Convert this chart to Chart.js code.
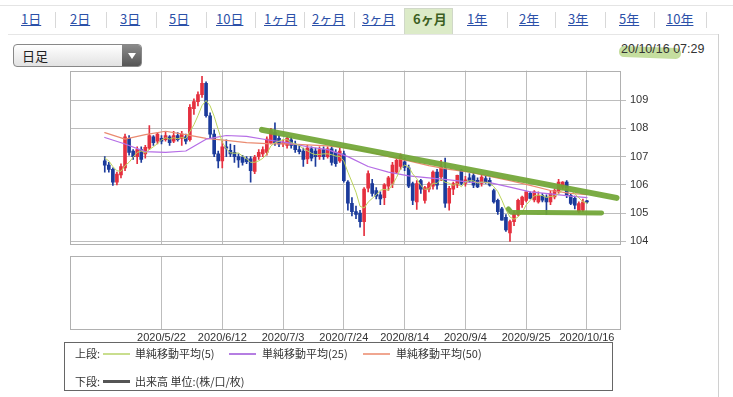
<!DOCTYPE html>
<html><head><meta charset="utf-8">
<script src="https://cdn.jsdelivr.net/npm/chart.js@4"></script>
<style>
html,body{margin:0;padding:0;background:#fff;width:733px;height:397px;overflow:hidden;font-family:"Noto Sans CJK JP","Liberation Sans",sans-serif;color:#333;}
.abs{position:absolute;}
.tab{position:absolute;top:10px;font-size:13px;line-height:18px;color:#2b50a8;text-decoration:underline;white-space:nowrap;}
.sep{position:absolute;top:12px;width:1px;height:16px;background:#d8d8d8;}
#sel{position:absolute;left:404px;top:8px;width:49px;height:26px;background:#dcebc8;border:1px solid #d0d8c8;border-bottom:none;box-sizing:border-box;}
#seltxt{position:absolute;left:413px;top:10px;font-size:13px;line-height:18px;font-weight:bold;color:#3b5e22;}
#dd{position:absolute;left:13px;top:44px;width:129px;height:23px;border:1px solid #888;border-radius:4px;box-sizing:border-box;background:linear-gradient(#ffffff,#e2e2e2);overflow:hidden;}
#ddtxt{position:absolute;left:8px;top:2px;font-size:13px;line-height:18px;color:#222;}
#ddbtn{position:absolute;right:0;top:0;width:19px;height:21px;background:linear-gradient(#8a8a8a,#555);}
#ddtri{position:absolute;left:6px;top:8px;width:0;height:0;border-left:4px solid transparent;border-right:4px solid transparent;border-top:6px solid #fff;}
#stamp{position:absolute;left:621px;top:41px;font-family:"Liberation Sans",Arial,sans-serif;font-size:12.5px;line-height:16px;color:#333;}
#hl{position:absolute;left:619px;top:47px;width:62px;height:11px;border-radius:5px;background:rgba(150,195,80,0.55);transform:rotate(2deg);}
#legend{position:absolute;left:64px;top:342px;width:549px;height:49px;border:1px solid #666;box-sizing:border-box;font-size:11px;color:#333;}
.lt{position:absolute;font-size:11px;line-height:14px;white-space:nowrap;}
.ll{position:absolute;height:2px;}
</style></head><body>

<div class="abs" style="left:0;top:5px;width:733px;height:1px;background:#e4e4e4"></div>
<div class="abs" style="left:718px;top:34px;width:1px;height:363px;background:#d0d0d0"></div>
<div class="abs" style="left:8px;top:34px;width:710px;height:1px;background:#e6e6e6"></div>
<div id="tabs"></div>
<div id="sel"></div><div id="seltxt">6ヶ月</div>

<div id="dd"><div id="ddtxt">日足</div><div id="ddbtn"><div id="ddtri"></div></div></div>
<div id="hl"></div>
<div id="stamp">20/10/16 07:29</div>

<canvas id="up" class="abs" style="left:0;top:60px" width="733" height="195"></canvas>
<canvas id="dn" class="abs" style="left:0;top:250px" width="733" height="100"></canvas>

<div id="legend">
  <div class="lt" style="left:10px;top:3px">上段:</div>
  <div class="ll" style="left:38px;top:10px;width:27px;background:#c9de8e"></div>
  <div class="lt" style="left:70px;top:3px">単純移動平均(5)</div>
  <div class="ll" style="left:164px;top:10px;width:27px;background:#b57ee2"></div>
  <div class="lt" style="left:197px;top:3px">単純移動平均(25)</div>
  <div class="ll" style="left:298px;top:10px;width:27px;background:#f0a690"></div>
  <div class="lt" style="left:331px;top:3px">単純移動平均(50)</div>
  <div class="lt" style="left:10px;top:31px">下段:</div>
  <div class="ll" style="left:38px;top:37px;width:27px;height:3px;background:#555"></div>
  <div class="lt" style="left:70px;top:31px">出来高 単位:(株/口/枚)</div>
</div>

<script>
// ---- tab bar labels ----
const tabLabels = ['1日','2日','3日','5日','10日','1ヶ月','2ヶ月','3ヶ月','6ヶ月','1年','2年','3年','5年','10年'];
const tabLeft = [21,70,120,169,216,264,312,362,413,467,519,568,619,666];
const sepLeft = [55,106,156,206,255,304,354,507,555,605,654,706];
(function(){
  const t = document.getElementById('tabs');
  tabLabels.forEach((l,i)=>{ if(l==='6ヶ月') return; const d=document.createElement('div'); d.className='tab'; d.style.left=tabLeft[i]+'px'; d.textContent=l; t.appendChild(d); });
  sepLeft.forEach(x=>{ const s=document.createElement('div'); s.className='sep'; s.style.left=x+'px'; t.appendChild(s); });
})();

// ---- data (USD/JPY daily) ----
const dates = [
'2020/5/4','2020/5/5','2020/5/6','2020/5/7','2020/5/8','2020/5/11','2020/5/12','2020/5/13','2020/5/14','2020/5/15',
'2020/5/18','2020/5/19','2020/5/20','2020/5/21','2020/5/22','2020/5/25','2020/5/26','2020/5/27','2020/5/28','2020/5/29',
'2020/6/1','2020/6/2','2020/6/3','2020/6/4','2020/6/5','2020/6/8','2020/6/9','2020/6/10','2020/6/11','2020/6/12',
'2020/6/15','2020/6/16','2020/6/17','2020/6/18','2020/6/19','2020/6/22','2020/6/23','2020/6/24','2020/6/25','2020/6/26',
'2020/6/29','2020/6/30','2020/7/1','2020/7/2','2020/7/3','2020/7/6','2020/7/7','2020/7/8','2020/7/9','2020/7/10',
'2020/7/13','2020/7/14','2020/7/15','2020/7/16','2020/7/17','2020/7/20','2020/7/21','2020/7/22','2020/7/23','2020/7/24',
'2020/7/27','2020/7/28','2020/7/29','2020/7/30','2020/7/31','2020/8/3','2020/8/4','2020/8/5','2020/8/6','2020/8/7',
'2020/8/10','2020/8/11','2020/8/12','2020/8/13','2020/8/14','2020/8/17','2020/8/18','2020/8/19','2020/8/20','2020/8/21',
'2020/8/24','2020/8/25','2020/8/26','2020/8/27','2020/8/28','2020/8/31','2020/9/1','2020/9/2','2020/9/3','2020/9/4',
'2020/9/7','2020/9/8','2020/9/9','2020/9/10','2020/9/11','2020/9/14','2020/9/15','2020/9/16','2020/9/17','2020/9/18',
'2020/9/21','2020/9/22','2020/9/23','2020/9/24','2020/9/25','2020/9/28','2020/9/29','2020/9/30','2020/10/1','2020/10/2',
'2020/10/5','2020/10/6','2020/10/7','2020/10/8','2020/10/9','2020/10/12','2020/10/13','2020/10/14','2020/10/15','2020/10/16'];

const open = [
106.85,106.70,106.55,106.10,106.35,106.60,107.65,107.20,107.00,107.25,
107.10,107.30,107.70,107.55,107.65,107.60,107.70,107.55,107.75,107.65,
107.70,107.60,108.70,108.95,109.20,109.60,108.45,107.80,107.10,106.85,
107.35,107.22,107.15,107.00,106.98,106.92,106.92,106.48,107.00,107.10,
107.15,107.50,107.85,107.65,107.45,107.40,107.60,107.45,107.25,107.20,
106.92,107.28,107.20,107.00,107.25,107.00,107.28,107.15,106.85,107.10,
106.10,105.35,105.05,105.00,104.70,105.88,106.05,105.80,105.65,105.55,
105.95,106.05,106.45,106.65,106.82,106.60,106.05,105.40,106.15,105.45,
105.85,105.95,106.45,106.28,106.58,105.35,105.85,105.99,106.52,106.05,
106.25,106.33,106.16,106.05,106.22,106.16,105.80,105.45,105.15,104.85,
104.30,104.70,104.95,105.30,105.45,105.70,105.47,105.40,105.63,105.57,
105.40,105.57,105.75,105.92,106.10,105.63,105.52,105.05,105.10,105.42];

const high = [
107.00,106.80,106.60,106.45,106.75,107.80,107.75,107.25,107.35,107.35,
107.40,108.10,107.75,107.85,107.75,107.90,107.75,107.90,107.85,107.90,
107.80,108.85,109.05,109.30,109.85,109.65,108.55,107.95,107.20,107.55,
107.60,107.45,107.40,107.10,107.05,107.00,107.00,107.05,107.25,107.35,
107.70,108.00,108.20,107.75,107.60,107.70,107.70,107.55,107.40,107.30,
107.40,107.35,107.30,107.35,107.35,107.35,107.35,107.25,107.30,107.20,
106.15,105.55,105.25,105.10,105.90,106.50,106.20,105.90,105.75,106.05,
106.30,106.80,106.95,107.10,106.95,106.70,106.10,106.15,106.20,105.95,
106.10,106.50,106.55,106.87,106.95,105.95,106.10,106.35,106.55,106.30,
106.40,106.45,106.25,106.35,106.30,106.25,105.85,105.50,105.20,104.95,
104.75,105.05,105.50,105.60,105.75,105.75,105.80,105.75,105.70,105.65,
105.80,105.85,106.20,106.12,106.15,105.70,105.60,105.40,105.50,105.45];

const low = [
106.45,106.45,105.98,106.00,106.25,106.50,107.05,106.90,106.75,106.80,
106.95,107.25,107.40,107.45,107.45,107.55,107.40,107.50,107.55,107.40,
107.45,107.55,108.50,108.80,109.10,108.40,107.65,107.00,106.60,106.60,
107.00,107.00,106.80,106.62,106.70,106.75,106.10,106.40,106.90,107.00,
107.05,107.45,107.40,107.35,107.35,107.30,107.30,107.15,107.10,106.65,
106.75,106.85,106.65,106.90,106.90,106.95,106.70,106.65,106.80,106.10,
105.10,104.90,104.80,104.50,104.20,105.75,105.60,105.50,105.30,105.30,
105.80,105.90,106.40,106.55,106.50,105.90,105.30,105.13,105.70,105.35,
105.75,105.85,105.85,106.15,105.20,105.10,105.65,105.90,106.00,105.95,
106.10,105.90,105.90,105.95,106.05,105.95,105.35,104.95,104.75,104.35,
104.00,104.55,104.90,105.20,105.40,105.50,105.40,105.35,105.40,104.95,
105.30,105.50,105.70,105.85,105.55,105.30,105.15,105.00,105.05,105.35];

const close = [
106.70,106.55,106.10,106.38,106.65,107.70,107.15,107.00,107.25,106.90,
107.33,107.75,107.50,107.80,107.55,107.75,107.50,107.75,107.60,107.80,
107.55,108.75,108.95,109.20,109.60,108.45,107.80,107.10,106.85,107.35,
107.30,107.10,107.00,106.88,106.80,106.82,106.50,106.98,107.15,107.25,
107.62,107.92,107.50,107.45,107.50,107.65,107.40,107.25,107.18,106.90,
107.30,106.95,107.00,107.25,107.00,107.28,106.80,106.75,107.20,106.15,
105.35,105.05,104.95,104.70,105.85,106.40,105.70,105.60,105.50,106.00,
106.25,106.70,106.87,107.05,106.62,105.95,105.45,106.05,105.85,105.90,
106.05,106.45,105.99,106.63,105.35,105.88,106.05,106.34,106.05,106.18,
106.13,105.99,105.93,106.28,106.10,105.99,105.40,105.05,104.75,104.40,
104.70,104.98,105.45,105.57,105.75,105.52,105.75,105.63,105.46,105.40,
105.69,105.81,106.10,106.10,105.63,105.34,105.28,105.34,105.40,105.40];

// moving averages
const sma5 = [
106.95,106.85,106.65,106.50,106.48,106.68,106.80,106.98,107.15,107.20,
107.13,107.25,107.35,107.46,107.59,107.67,107.62,107.67,107.63,107.68,
107.64,107.89,108.13,108.45,108.81,108.99,108.80,108.43,107.96,107.51,
107.28,107.14,107.12,107.13,107.02,106.92,106.80,106.80,106.85,106.94,
107.10,107.38,107.49,107.55,107.60,107.60,107.50,107.45,107.40,107.28,
107.21,107.12,107.07,107.08,107.10,107.10,107.07,107.02,107.01,106.84,
106.45,106.10,105.74,105.24,105.18,105.39,105.52,105.65,105.81,105.84,
105.81,106.01,106.26,106.57,106.70,106.64,106.39,106.22,105.98,105.84,
105.86,106.06,106.05,106.20,106.09,106.06,105.98,106.05,105.93,106.10,
106.15,106.14,106.06,106.10,106.09,106.06,105.94,105.76,105.46,105.12,
104.86,104.78,104.86,105.02,105.29,105.45,105.61,105.64,105.62,105.55,
105.59,105.60,105.69,105.82,105.87,105.80,105.69,105.54,105.40,105.35];

const maDates = ['2020/5/4','2020/5/11','2020/5/18','2020/5/25','2020/6/1','2020/6/8','2020/6/15','2020/6/22','2020/6/29',
'2020/7/6','2020/7/13','2020/7/20','2020/7/27','2020/8/3','2020/8/10','2020/8/17','2020/8/24','2020/8/31','2020/9/7',
'2020/9/14','2020/9/21','2020/9/28','2020/10/5','2020/10/12','2020/10/16'];
const sma25 = [107.68,107.45,107.18,107.15,107.20,107.62,107.75,107.72,107.60,107.50,107.35,107.25,107.00,106.65,106.45,
106.32,106.25,106.18,106.10,106.08,105.92,105.75,105.68,105.60,105.55];
const sma50 = [107.85,107.62,107.78,107.90,107.78,107.65,107.58,107.50,107.46,107.45,107.42,107.38,107.30,107.18,107.00,
106.85,106.68,106.55,106.45,106.30,106.15,105.98,105.80,105.70,105.65];

// hand-drawn green annotation lines (in trading-day units / price)
const trendPos = [38.8, 126.3];
const trendVal = [107.95, 105.54];
const supportPos = [99.6, 100.3, 122.6];
const supportVal = [105.15, 105.03, 105.00];

const tickDates = ['2020/5/22','2020/6/12','2020/7/3','2020/7/24','2020/8/14','2020/9/4','2020/9/25','2020/10/16'];
const priceTicks = [104,105,106,107,108,109];
const volume = [];

// ---- chart setup ----
const RED = '#e5303f', BLUE = '#1c3b9b', GRID = '#bdbdbd';
const X_MIN = -8.58, X_MAX = 127.4;
const candleColor = ctx => close[ctx.dataIndex] >= open[ctx.dataIndex] ? RED : BLUE;
const idx = d => dates.indexOf(d);
const gridTicks = s => { s.ticks = tickDates.map(d => ({value: idx(d)})); };

const frame = {
  id: 'frame',
  beforeDatasetsDraw(chart) {
    const a = chart.chartArea, c = chart.ctx;
    c.save(); c.strokeStyle = '#b0b0b0'; c.lineWidth = 1;
    c.strokeRect(Math.round(a.left)+0.5, Math.round(a.top)+0.5, Math.round(a.right-a.left)-1, Math.round(a.bottom-a.top)-1);
    c.restore();
  }
};

const lineDs = (data, color, width, order) => ({
  type: 'line', data, borderColor: color, borderWidth: width, pointRadius: 0,
  tension: 0, fill: false, order, borderCapStyle: 'round', borderJoinStyle: 'round'
});

new Chart(document.getElementById('up'), {
  type: 'bar',
  data: {
    datasets: [
      lineDs(trendPos.map((x,i)=>({x, y: trendVal[i]})), 'rgba(112,165,52,0.92)', 6, 0),
      lineDs(supportPos.map((x,i)=>({x, y: supportVal[i]})), 'rgba(112,165,52,0.92)', 5, 0),
      lineDs(sma5.map((y,i)=>({x:i, y})), '#bcd45c', 1, 1),
      lineDs(maDates.map((d,i)=>({x: idx(d), y: sma25[i]})), '#b56de6', 1.2, 1),
      lineDs(maDates.map((d,i)=>({x: idx(d), y: sma50[i]})), '#ea8a70', 1.2, 1),
      { type:'bar', data: dates.map((d,i)=>({x:i, y:[open[i], close[i]]})), backgroundColor: candleColor,
        barThickness: 3, grouped: false, minBarLength: 1, borderWidth: 0, order: 2 },
      { type:'bar', data: dates.map((d,i)=>({x:i, y:[low[i], high[i]]})), backgroundColor: candleColor,
        barThickness: 1, grouped: false, borderWidth: 0, order: 3 }
    ]
  },
  options: {
    responsive: false, animation: false, devicePixelRatio: 1,
    layout: { padding: { left: 70, top: 10, right: 0, bottom: 10.5 } },
    plugins: { legend: { display: false }, tooltip: { enabled: false } },
    scales: {
      x: { type: 'linear', min: X_MIN, max: X_MAX, offset: false, afterBuildTicks: gridTicks,
           ticks: { display: false }, grid: { color: GRID, drawTicks: false, offset: false }, border: { display: false },
           afterFit: s => { s.height = 0; } },
      y: { position: 'right', min: 103.89, max: 110.05,
           afterBuildTicks: s => { s.ticks = priceTicks.map(v => ({value: v})); },
           ticks: { color: '#333', padding: 4, font: { family: 'Liberation Sans', size: 11 } },
           grid: { color: GRID, tickLength: 5 }, border: { display: false },
           afterFit: s => { s.width = 112; } }
    }
  },
  plugins: [frame]
});

new Chart(document.getElementById('dn'), {
  type: 'bar',
  data: { datasets: [ { label: '出来高', data: volume, backgroundColor: '#555' } ] },
  options: {
    responsive: false, animation: false, devicePixelRatio: 1,
    layout: { padding: { left: 70, top: 6, right: 0, bottom: 0 } },
    plugins: { legend: { display: false }, tooltip: { enabled: false } },
    scales: {
      x: { type: 'linear', min: X_MIN, max: X_MAX, offset: false, afterBuildTicks: gridTicks,
           ticks: { autoSkip: false, maxRotation: 0, padding: 1, color: '#333',
                    font: { family: 'Liberation Sans', size: 11 }, callback: v => dates[v] },
           grid: { color: GRID, drawTicks: false, offset: false }, border: { display: false },
           afterFit: s => { s.height = 20; } },
      y: { position: 'right', min: 0, max: 1, ticks: { display: false }, grid: { display: false },
           border: { display: false }, afterFit: s => { s.width = 112; } }
    }
  },
  plugins: [frame]
});
</script>
</body></html>
